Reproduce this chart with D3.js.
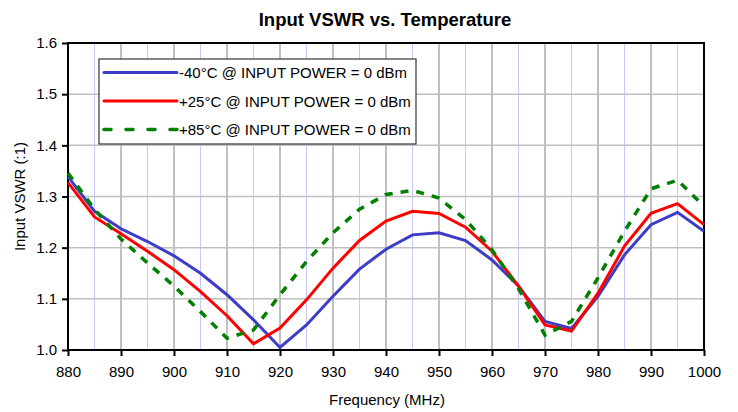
<!DOCTYPE html>
<html>
<head>
<meta charset="UTF-8">
<title>Input VSWR vs. Temperature</title>
<script src="https://cdn.jsdelivr.net/npm/d3@7"></script>
<style type="text/css">
	body{ margin: 0; background: #fff; }
	text{ font-family: Arial, "Liberation Sans", sans-serif; }
</style>
</head>
<body>
<script>
// frequency points (MHz)
var freqs = [880,885,890,895,900,905,910,915,920,925,930,935,940,945,950,955,960,965,970,975,980,985,990,995,1000];

var vswrM40 = [1.339,1.271,1.237,1.212,1.184,1.150,1.108,1.059,1.005,1.049,1.105,1.158,1.197,1.225,1.229,1.214,1.176,1.125,1.056,1.042,1.105,1.186,1.245,1.269,1.232];
var vswrP25 = [1.327,1.260,1.227,1.193,1.157,1.114,1.067,1.012,1.043,1.098,1.160,1.214,1.252,1.271,1.267,1.240,1.193,1.125,1.049,1.037,1.111,1.203,1.267,1.286,1.245];
var vswrP85 = [1.346,1.275,1.217,1.170,1.125,1.075,1.023,1.039,1.108,1.173,1.229,1.275,1.304,1.312,1.297,1.255,1.196,1.120,1.029,1.056,1.141,1.232,1.315,1.332,1.281];

var seriesNames = ["-40°C @ INPUT POWER = 0 dBm", "+25°C @ INPUT POWER = 0 dBm", "+85°C @ INPUT POWER = 0 dBm"];
var xTicks = [880,890,900,910,920,930,940,950,960,970,980,990,1000];
var xMinor = [885,895,905,915,925,935,945,955,965,975,985,995];
var yTicks = [1.0,1.1,1.2,1.3,1.4,1.5,1.6];

var width = 738, height = 412;
// plot area edges (not "top": that one belongs to window)
var pLeft = 68, pRight = 704, pTop = 43, pBottom = 350;

var svg = d3.select("body").append("svg")
	.attr("width", width)
	.attr("height", height);

var x = d3.scaleLinear().domain([880, 1000]).range([pLeft, pRight]);
var y = d3.scaleLinear().domain([1.0, 1.6]).range([pBottom, pTop]);

// minor vertical grid (5 MHz)
svg.append("g").selectAll("line")
	.data(xMinor).enter().append("line")
	.attr("x1", function(d){ return x(d); }).attr("x2", function(d){ return x(d); })
	.attr("y1", pTop).attr("y2", pBottom)
	.attr("stroke", "#c8c8ff").attr("stroke-width", 1);

// major vertical grid
svg.append("g").selectAll("line")
	.data(xTicks.slice(1, -1)).enter().append("line")
	.attr("x1", function(d){ return x(d); }).attr("x2", function(d){ return x(d); })
	.attr("y1", pTop).attr("y2", pBottom)
	.attr("stroke", "#c0c0c0").attr("stroke-width", 2);

// horizontal grid
svg.append("g").selectAll("line")
	.data(yTicks.slice(1, -1)).enter().append("line")
	.attr("x1", pLeft).attr("x2", pRight)
	.attr("y1", function(d){ return y(d); }).attr("y2", function(d){ return y(d); })
	.attr("stroke", "#c0c0c0").attr("stroke-width", 1.5);

// axes
var xAxis = svg.append("g")
	.attr("transform", "translate(0," + pBottom + ")")
	.call(d3.axisBottom(x).tickValues(xTicks).tickSize(6).tickPadding(10).tickFormat(d3.format("d")));
var yAxis = svg.append("g")
	.attr("transform", "translate(" + pLeft + ",0)")
	.call(d3.axisLeft(y).tickValues(yTicks).tickSize(6).tickPadding(5).tickFormat(d3.format(".1f")));

[xAxis, yAxis].forEach(function(a){
	a.select(".domain").remove();
	a.selectAll(".tick line").attr("stroke", "#000").attr("stroke-width", 2);
	a.selectAll("text").attr("font-size", "15px").attr("fill", "#000")
		.attr("font-family", "Arial, 'Liberation Sans', sans-serif");
});

// frame
svg.append("rect")
	.attr("x", pLeft).attr("y", pTop)
	.attr("width", pRight - pLeft).attr("height", pBottom - pTop)
	.attr("fill", "none").attr("stroke", "#000").attr("stroke-width", 2);

var series = [
	{name: seriesNames[0], values: vswrM40, color: "#3c3cc8", dash: null, w: 3},
	{name: seriesNames[1], values: vswrP25, color: "#ff0000", dash: null, w: 3},
	{name: seriesNames[2], values: vswrP85, color: "#008000", dash: "8,8", w: 3.5}
];

var line = d3.line()
	.x(function(d, i){ return x(freqs[i]); })
	.y(function(d){ return y(d); });

svg.append("g").selectAll("path")
	.data(series).enter().append("path")
	.attr("d", function(d){ return line(d.values); })
	.attr("fill", "none")
	.attr("stroke", function(d){ return d.color; })
	.attr("stroke-width", function(d){ return d.w; })
	.attr("stroke-dasharray", function(d){ return d.dash; })
	.attr("stroke-linejoin", "miter");

// legend
var lg = svg.append("g");
lg.append("rect")
	.attr("x", 99).attr("y", 59).attr("width", 317).attr("height", 85)
	.attr("fill", "#fff").attr("stroke", "#333").attr("stroke-width", 1.2);

var items = lg.selectAll("g.item")
	.data(series).enter().append("g")
	.attr("class", "item")
	.attr("transform", function(d, i){ return "translate(0," + (72.5 + i * 28.5) + ")"; });
items.append("line")
	.attr("x1", 104).attr("x2", 177).attr("y1", 0).attr("y2", 0)
	.attr("stroke", function(d){ return d.color; })
	.attr("stroke-width", function(d){ return d.w; })
	.attr("stroke-dasharray", function(d){ return d.dash ? "7,15" : null; })
	.attr("stroke-linecap", "round");
items.append("text")
	.attr("x", 179).attr("y", 5.5)
	.attr("font-size", "15px")
	.text(function(d){ return d.name; });

// titles
svg.append("text")
	.attr("x", 385).attr("y", 26)
	.attr("text-anchor", "middle")
	.attr("font-size", "18.5px").attr("font-weight", "bold")
	.text("Input VSWR vs. Temperature");

svg.append("text")
	.attr("x", 387).attr("y", 405)
	.attr("text-anchor", "middle")
	.attr("font-size", "15px")
	.text("Frequency (MHz)");

svg.append("text")
	.attr("transform", "translate(25," + ((pTop + pBottom) / 2) + ") rotate(-90)")
	.attr("text-anchor", "middle")
	.attr("font-size", "15px")
	.text("Input VSWR (:1)");
</script>
</body>
</html>
